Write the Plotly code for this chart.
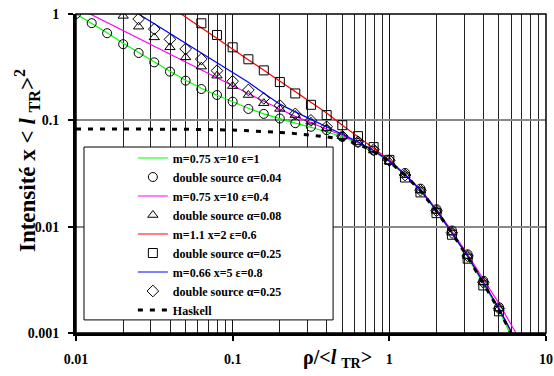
import plotly.graph_objects as go

# ---------------- data ----------------
rho_circ = [0.01, 0.0126, 0.0158, 0.02, 0.0251, 0.0316, 0.0398, 0.0501, 0.0631, 0.0794, 0.1,
            0.126, 0.158, 0.2, 0.251, 0.316, 0.398, 0.501, 0.631, 0.794, 1.0, 1.26, 1.58,
            2.0, 2.51, 3.16, 3.98, 5.01]
int_circ = [1.0, 0.82, 0.66, 0.52, 0.43, 0.351, 0.287, 0.236, 0.197, 0.173, 0.15,
            0.128, 0.115, 0.104, 0.094, 0.087, 0.081, 0.07, 0.062, 0.052, 0.042, 0.032, 0.0228,
            0.0146, 0.0092, 0.0055, 0.0031, 0.00175]

rho_tri = [0.02, 0.0251, 0.0316, 0.0398, 0.0501, 0.0631, 0.0794, 0.1, 0.126, 0.158, 0.2, 0.251,
           0.316, 0.398, 0.501, 0.631, 0.794, 1.0, 1.26, 1.58, 2.0, 2.51, 3.16, 3.98, 5.01]
int_tri = [0.96, 0.76, 0.603, 0.486, 0.391, 0.32, 0.263, 0.21, 0.173, 0.145, 0.128, 0.112,
           0.097, 0.084, 0.071, 0.062, 0.052, 0.041, 0.0306, 0.0219, 0.0141, 0.0088, 0.0053, 0.0030, 0.0017]

rho_sq = [0.0631, 0.0794, 0.1, 0.126, 0.158, 0.2, 0.251, 0.316, 0.398, 0.501, 0.631, 0.794,
          1.0, 1.26, 1.58, 2.0, 2.51, 3.16, 3.98, 5.01]
int_sq = [0.818, 0.635, 0.486, 0.375, 0.295, 0.229, 0.179, 0.14, 0.112, 0.09, 0.071, 0.056,
          0.0425, 0.029, 0.021, 0.0134, 0.0084, 0.005, 0.0028, 0.0016]

rho_dia = [0.0251, 0.0316, 0.0398, 0.0501, 0.0631, 0.0794, 0.1, 0.126, 0.158, 0.2, 0.251,
           0.316, 0.398, 0.501, 0.631, 0.794, 1.0, 1.26, 1.58, 2.0, 2.51, 3.16, 3.98, 5.01]
int_dia = [0.897, 0.722, 0.578, 0.469, 0.377, 0.293, 0.233, 0.193, 0.161, 0.138, 0.115,
           0.1, 0.087, 0.071, 0.063, 0.053, 0.042, 0.0306, 0.022, 0.0141, 0.0088, 0.0053, 0.003, 0.0017]

rho_green = [0.01, 0.0126, 0.0158, 0.02, 0.0251, 0.0316, 0.0398, 0.0501, 0.0631, 0.0794, 0.1,
             0.126, 0.158, 0.2, 0.251, 0.316, 0.398, 0.501, 0.631, 0.794, 1.0, 1.26, 1.58,
             2.0, 2.51, 3.16, 3.98, 5.01, 6.31]
int_green = [1.0, 0.82, 0.665, 0.53, 0.432, 0.352, 0.29, 0.238, 0.2, 0.172, 0.149,
             0.13, 0.115, 0.103, 0.094, 0.086, 0.078, 0.07, 0.061, 0.051, 0.041, 0.0305, 0.0218,
             0.014, 0.0087, 0.0052, 0.0029, 0.00165, 0.0008]

rho_mag = [0.01, 0.0126, 0.0158, 0.02, 0.0251, 0.0316, 0.0398, 0.0501, 0.0631, 0.0794, 0.1,
           0.126, 0.158, 0.2, 0.251, 0.316, 0.398, 0.501, 0.631, 0.794, 1.0, 1.26, 1.58,
           2.0, 2.51, 3.16, 3.98, 5.01, 6.31, 7.94]
int_mag = [1.166, 0.982, 0.831, 0.698, 0.589, 0.497, 0.419, 0.354, 0.298, 0.252, 0.21,
           0.178, 0.151, 0.128, 0.109, 0.095, 0.083, 0.072, 0.062, 0.052, 0.0415, 0.031, 0.0224,
           0.0145, 0.0091, 0.0055, 0.0032, 0.0019, 0.00105, 0.00055]

rho_red = [0.0398, 0.0501, 0.0631, 0.0794, 0.1, 0.126, 0.158, 0.2, 0.251, 0.316, 0.398, 0.501,
           0.631, 0.794, 1.0, 1.26, 1.58, 2.0, 2.51, 3.16, 3.98, 5.01, 6.31]
int_red = [1.18, 0.938, 0.745, 0.592, 0.47, 0.373, 0.297, 0.235, 0.187, 0.149, 0.117, 0.09,
           0.07, 0.055, 0.0425, 0.031, 0.0222, 0.0143, 0.0088, 0.0053, 0.003, 0.0017, 0.00088]

rho_blue = [0.02, 0.0251, 0.0316, 0.0398, 0.0501, 0.0631, 0.0794, 0.1, 0.126, 0.158, 0.2, 0.251,
            0.316, 0.398, 0.501, 0.631, 0.794, 1.0, 1.26, 1.58, 2.0, 2.51, 3.16, 3.98, 5.01, 6.31]
int_blue = [1.23, 1.0, 0.809, 0.654, 0.528, 0.427, 0.345, 0.279, 0.228, 0.18, 0.142, 0.12,
            0.102, 0.087, 0.073, 0.063, 0.052, 0.0415, 0.0308, 0.022, 0.0142, 0.0088, 0.0053, 0.003, 0.0017, 0.0009]

rho_hask = [0.01, 0.02, 0.0501, 0.1, 0.158, 0.2, 0.251, 0.316, 0.398, 0.501, 0.631, 0.794, 1.0,
            1.26, 1.58, 2.0, 2.51, 3.16, 3.98, 5.01, 6.31]
int_hask = [0.083, 0.083, 0.0825, 0.081, 0.079, 0.077, 0.075, 0.073, 0.07, 0.066, 0.06, 0.051, 0.041,
            0.0305, 0.0218, 0.014, 0.0087, 0.0052, 0.0029, 0.00165, 0.00085]

x_tickvals = [0.01, 0.1, 1, 10]
x_ticktext = ["0.01", "0.1", "1", "10"]
y_tickvals = [0.001, 0.01, 0.1, 1]
y_ticktext = ["0.001", "0.01", "0.1", "1"]
minor_vals = [m * 10.0 ** e for e in (-2, -1, 0) for m in range(2, 10)]

FONT = "Liberation Serif"

fig = go.Figure()

def line_trace(x, y, name, color, dash="solid", width=1.2):
    return go.Scatter(x=x, y=y, mode="lines", name=name,
                      line=dict(color=color, width=width, dash=dash))

def marker_trace(x, y, name, symbol):
    return go.Scatter(x=x, y=y, mode="markers", name=name,
                      marker=dict(symbol=symbol, size=9, color="black",
                                  line=dict(width=1, color="black")))

fig.add_trace(line_trace(rho_green, int_green, "m=0.75 x=10 ε=1", "#00ff00"))
fig.add_trace(marker_trace(rho_circ, int_circ, "double source α=0.04", "circle-open"))
fig.add_trace(line_trace(rho_mag, int_mag, "m=0.75 x=10 ε=0.4", "#ff00ff"))
fig.add_trace(marker_trace(rho_tri, int_tri, "double source α=0.08", "triangle-up-open"))
fig.add_trace(line_trace(rho_red, int_red, "m=1.1 x=2 ε=0.6", "#ff0000"))
fig.add_trace(marker_trace(rho_sq, int_sq, "double source α=0.25", "square-open"))
fig.add_trace(line_trace(rho_blue, int_blue, "m=0.66 x=5 ε=0.8", "#0000ff"))
fig.add_trace(marker_trace(rho_dia, int_dia, "double source α=0.25", "diamond-open"))
fig.add_trace(line_trace(rho_hask, int_hask, "Haskell", "black", dash="5px,7px", width=3))

# legend frame (white box)
fig.add_shape(type="rect", xref="paper", yref="paper", x0=0.017, x1=0.547, y0=0.041, y1=0.583,
              fillcolor="white", line=dict(color="black", width=1), layer="above")
# thin top/right frame
fig.add_shape(type="rect", xref="paper", yref="paper", x0=0, x1=1, y0=0, y1=1,
              line=dict(color="black", width=1.5), layer="above")

fig.update_layout(
    width=554, height=376,
    margin=dict(l=76, r=8, t=14, b=43),
    plot_bgcolor="white", paper_bgcolor="white",
    font=dict(family=FONT, color="black"),
    showlegend=True,
    legend=dict(x=0.121, y=0.594, xanchor="left", yanchor="top",
                bgcolor="rgba(0,0,0,0)", borderwidth=0,
                font=dict(family=FONT, size=12, weight="bold", color="black"),
                tracegroupgap=0),
    xaxis=dict(type="log", range=[-2, 1], tickmode="array", tickvals=x_tickvals, ticktext=x_ticktext,
               showline=True, linecolor="black", linewidth=3, ticks="outside", ticklen=5,
               tickwidth=2, tickcolor="black", ticklabelstandoff=6, automargin=False,
               tickfont=dict(family=FONT, size=14, weight="bold"),
               showgrid=True, gridcolor="#111111", gridwidth=1, zeroline=False,
               minor=dict(tickmode="array", tickvals=minor_vals, showgrid=True,
                          gridcolor="#222222", gridwidth=1, ticks="")),
    yaxis=dict(type="log", range=[-3, 0], tickmode="array", tickvals=y_tickvals, ticktext=y_ticktext,
               showline=True, linecolor="black", linewidth=3, ticks="outside", ticklen=5,
               tickwidth=2, tickcolor="black", ticklabelstandoff=6, automargin=False,
               tickfont=dict(family=FONT, size=14, weight="bold"),
               showgrid=True, gridcolor="#888888", gridwidth=2, zeroline=False),
    annotations=[
        dict(text="Intensité x &lt; <i>l</i> <sub>TR</sub>&gt;<sup>2</sup>", xref="paper", yref="paper",
             x=-0.105, y=0.541, xanchor="center", yanchor="middle", textangle=-90, showarrow=False,
             font=dict(family=FONT, size=23, weight="bold", color="black")),
        dict(text="ρ/&lt;<i>l</i> <sub>TR</sub>&gt;", xref="paper", yref="paper",
             x=0.557, y=-0.08, xanchor="center", yanchor="middle", showarrow=False,
             font=dict(family=FONT, size=20, weight="bold", color="black")),
    ],
)

fig.write_html("out.html", config={"displayModeBar": False},
               post_script="document.body.style.margin='0';")
